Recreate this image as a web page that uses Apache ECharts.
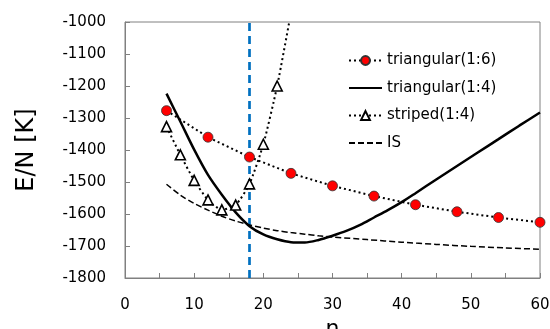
<!DOCTYPE html>
<html>
<head>
<meta charset="utf-8">
<script src="https://cdn.jsdelivr.net/npm/echarts@6/dist/echarts.min.js"></script>
<style>
  html, body { margin: 0; padding: 0; background: #fff; }
  #chart { width: 550px; height: 329px; }
</style>
</head>
<body>
<div id="chart"></div>
<script>
// triangular(1:6) - red circles, dotted
const tri16X = [6, 12, 18, 24, 30, 36, 42, 48, 54, 60];
const tri16Y = [-1277, -1360, -1422, -1473, -1512, -1544, -1571, -1593, -1611, -1626];

// triangular(1:4) - solid curve
const tri14X = [6, 8, 10, 12, 14, 16, 18, 20, 22, 24, 26, 28, 30, 32, 34, 36, 38, 40, 42, 45, 48, 51, 54, 57, 60];
const tri14Y = [-1224, -1311, -1399, -1478, -1540, -1595, -1638, -1664, -1679, -1688, -1689, -1681, -1668, -1653, -1634, -1611, -1588, -1563, -1535, -1492, -1450, -1408, -1366, -1324, -1283];

// striped(1:4) - open triangles, dotted (last point runs off the top)
const str14X = [6, 8, 10, 12, 14, 16, 18, 20, 22, 24];
const str14Y = [-1327, -1415, -1495, -1556, -1587, -1572, -1506, -1382, -1200, -970];

// IS - dashed curve
const isX = [6, 8, 10, 12, 14, 16, 18, 20, 22, 24, 26, 28, 30, 35, 40, 45, 50, 55, 60];
const isY = [-1507, -1541, -1567, -1588, -1607, -1622, -1634, -1644, -1652, -1658, -1663, -1668, -1672, -1680, -1688, -1695, -1701, -1706, -1710];

const markN = 18;
const yLimits = [-1800, -1000];
const seriesNames = ['triangular(1:6)', 'triangular(1:4)', 'striped(1:4)', 'IS'];

const pairs = (xs, ys) => xs.map((x, i) => [x, ys[i]]);
const font = 'DejaVu Sans';

const chart = echarts.init(document.getElementById('chart'));

chart.setOption({
  animation: false,
  textStyle: { fontFamily: font, color: '#000' },
  grid: {
    left: 125, right: 10, top: 22, bottom: 51,
    containLabel: false,
    outerBoundsMode: 'none',
    show: true, borderColor: '#808080', borderWidth: 1
  },
  legend: {
    data: seriesNames,
    orient: 'vertical',
    left: 343,
    top: 48,
    itemWidth: 33,
    itemHeight: 11,
    itemGap: 12.5,
    textStyle: { fontFamily: font, fontSize: 15, color: '#000' }
  },
  xAxis: {
    type: 'value',
    min: 0, max: 60, interval: 10,
    name: 'n',
    nameLocation: 'middle',
    nameGap: 29,
    nameTextStyle: { fontFamily: font, fontSize: 22, color: '#000' },
    axisLine: { lineStyle: { color: '#808080', width: 1 } },
    axisTick: { inside: true, length: 5, lineStyle: { color: '#808080' } },
    minorTick: { show: true, splitNumber: 2, length: 5, lineStyle: { color: '#808080' } },
    axisLabel: { margin: 20, fontSize: 15, color: '#000', fontFamily: font, formatter: v => String(v) },
    splitLine: { show: false }
  },
  yAxis: {
    type: 'value',
    min: yLimits[0], max: yLimits[1], interval: 100,
    name: 'E/N [K]',
    nameLocation: 'middle',
    nameRotate: 90,
    nameGap: 86,
    nameTextStyle: { fontFamily: font, fontSize: 24, color: '#000' },
    axisLine: { show: true, lineStyle: { color: '#808080', width: 1 } },
    axisTick: { show: true, inside: true, length: 5, lineStyle: { color: '#808080' } },
    axisLabel: { margin: 19, fontSize: 15, color: '#000', fontFamily: font, formatter: v => String(v) },
    splitLine: { show: false }
  },
  series: [
    {
      name: seriesNames[0],
      type: 'line',
      data: pairs(tri16X, tri16Y),
      symbol: 'circle',
      symbolSize: 10,
      itemStyle: { color: '#ff0000', borderColor: '#333', borderWidth: 0.8 },
      lineStyle: { color: '#000', width: 2, type: [2, 3] },
      z: 4
    },
    {
      name: seriesNames[1],
      type: 'line',
      data: pairs(tri14X, tri14Y),
      smooth: 0.3,
      symbol: 'none',
      itemStyle: { color: 'transparent', borderWidth: 0 },
      lineStyle: { color: '#000', width: 2.5 },
      z: 3
    },
    {
      name: seriesNames[2],
      type: 'line',
      data: pairs(str14X, str14Y),
      smooth: 0.2,
      symbol: 'triangle',
      symbolSize: 10,
      itemStyle: { color: '#fff', borderColor: '#000', borderWidth: 1.6 },
      lineStyle: { color: '#000', width: 2, type: [2, 3] },
      z: 4
    },
    {
      name: seriesNames[3],
      type: 'line',
      data: pairs(isX, isY),
      smooth: 0.3,
      symbol: 'none',
      itemStyle: { color: 'transparent', borderWidth: 0 },
      lineStyle: { color: '#000', width: 1.5, type: [6, 3] },
      z: 2
    },
    {
      name: 'n=18',
      type: 'line',
      data: [[markN, yLimits[0]], [markN, yLimits[1]]],
      symbol: 'none',
      lineStyle: { color: '#0070c0', width: 2.7, type: [8, 5] },
      z: 1
    }
  ]
});
</script>
</body>
</html>
